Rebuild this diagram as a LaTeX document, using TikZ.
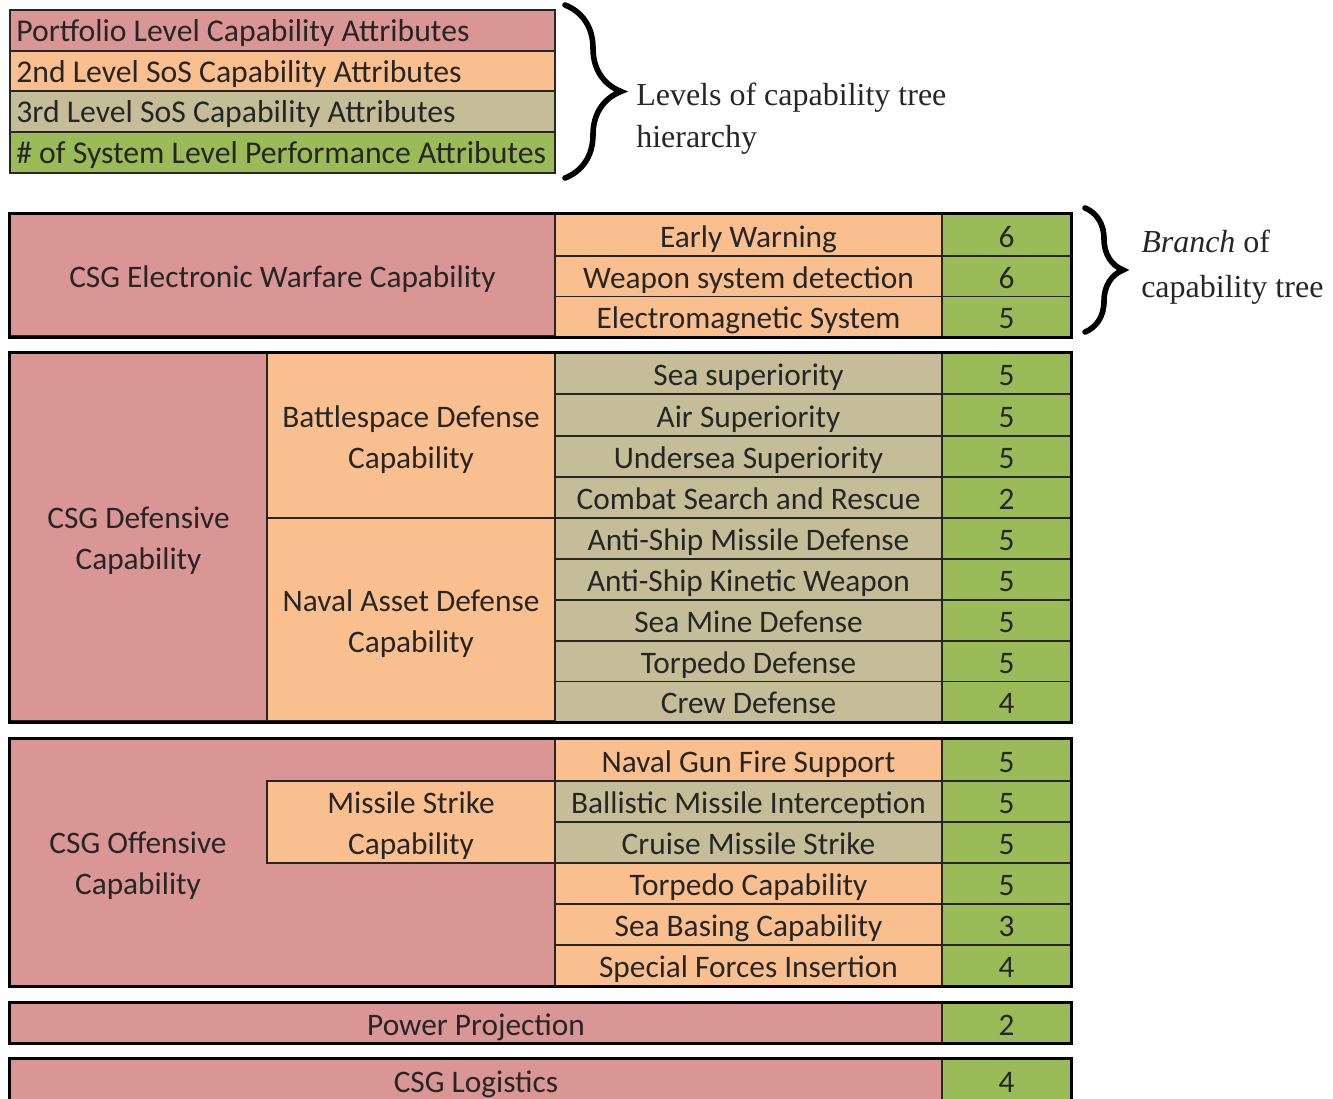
\documentclass[tikz,border=0pt]{standalone}
\usepackage{fontspec}
\setmainfont{Carlito}
\newfontfamily\serifrm{Liberation Serif}
\usetikzlibrary{decorations.pathreplacing}
\definecolor{pinkc}{HTML}{DA9694}
\definecolor{orangec}{HTML}{FABF8F}
\definecolor{tanc}{HTML}{C4BD97}
\definecolor{greenc}{HTML}{9BBB59}
\definecolor{inkc}{HTML}{262626}
% cell without text: name, x1, y1, x2, y2, fill (pixel coordinates)
\newcommand\mkcell[6]{%
  \pgfmathsetmacro\cellw{(#4-#2)*0.75}%
  \pgfmathsetmacro\cellh{(#5-#3)*0.75}%
  \node[cellbox, fill=#6, minimum width=\cellw pt, minimum height=\cellh pt]
    (#1) at ({(#2+#4)/2},{(#3+#5)/2}) {};}
% cell with one line of text
\newcommand\mkline[7]{%
  \pgfmathsetmacro\cellw{(#4-#2)*0.75}%
  \pgfmathsetmacro\cellh{(#5-#3)*0.75}%
  \node[cellbox, oneline, fill=#6, minimum width=\cellw pt, minimum height=\cellh pt]
    (#1) at ({(#2+#4)/2},{(#3+#5)/2}) {#7};}
% cell with two lines of text
\newcommand\mktwo[7]{%
  \mkcell{#1}{#2}{#3}{#4}{#5}{#6}%
  \node[bigtext] (#1t) at ([yshift=-3pt]#1.center) {#7};}
\newcommand\myrow[6]{%
  \mkline{#1}{555}{#2}{942}{#3}{#4}{#5}%
  \mkline{#1n}{942}{#2}{1071}{#3}{greenc}{#6}}
\begin{document}
\begin{tikzpicture}[x=0.75pt,y=-0.75pt,
  cellbox/.style={draw=inkc, line width=0.9pt, inner sep=0pt, align=center,
    font=\fontsize{23.5}{30.75}\selectfont, text=inkc},
  oneline/.style={text height=24pt, text depth=6pt},
  legtext/.style={anchor=base west, inner sep=0pt, font=\fontsize{23.8}{28}\selectfont, text=inkc},
  outer/.style={draw=black, line width=2.4pt},
  bigtext/.style={inner sep=0pt, align=center, font=\fontsize{23.5}{30.75}\selectfont, text=inkc},
  note/.style={anchor=base west, inner sep=0pt, align=left, text=inkc},
  bracestyle/.style={decorate, decoration={brace, amplitude=#1}, line width=4.2pt, line cap=round}]
\useasboundingbox (0,0) rectangle (1333,1098);
\clip (0,0) rectangle (1333,1098);
\fill[white] (0,0) rectangle (1333,1098);

% Legend
\mkcell{lg1}{10}{10}{555}{51}{pinkc}
\mkcell{lg2}{10}{51}{555}{91}{orangec}
\mkcell{lg3}{10}{91}{555}{132}{tanc}
\mkcell{lg4}{10}{132}{555}{173}{greenc}
\node[legtext] (lgt1) at (16,42) {Portfolio Level Capability Attributes};
\node[legtext] (lgt2) at (16,83) {2nd Level SoS Capability Attributes};
\node[legtext] (lgt3) at (16,123) {3rd Level SoS Capability Attributes};
\node[legtext] (lgt4) at (16,164) {\# of System Level Performance Attributes};
\coordinate (b1s) at (565,5);
\coordinate (b1e) at (565,178);
\draw[bracestyle=42pt] (b1s) -- (b1e);
\node[note, font=\serifrm\fontsize{24}{31.5}\selectfont] (levels) at (636,148)
  {Levels of capability tree\\hierarchy};

% Electronic warfare branch
\mkline{ew}{10}{214}{555}{336}{pinkc}{CSG Electronic Warfare Capability}
\myrow{ew1}{214}{256}{orangec}{Early Warning}{6}
\myrow{ew2}{256}{297}{orangec}{Weapon system detection}{6}
\myrow{ew3}{297}{336}{orangec}{Electromagnetic System}{5}
\draw[outer] (ew.north west) rectangle (ew3n.south east);
\coordinate (b2s) at (1085,208);
\coordinate (b2e) at (1085,332);
\draw[bracestyle=28.5pt] (b2s) -- (b2e);
\node[note, font=\serifrm\fontsize{24}{33.75}\selectfont] (branch) at (1141,297)
  {\textit{Branch} of\\capability tree};

% Defensive branch
\mktwo{def}{10}{353}{267}{721}{pinkc}{CSG Defensive\\Capability}
\mktwo{bsd}{267}{353}{555}{518}{orangec}{Battlespace Defense\\Capability}
\mktwo{nad}{267}{518}{555}{721}{orangec}{Naval Asset Defense\\Capability}
\myrow{d1}{353}{394}{tanc}{Sea superiority}{5}
\myrow{d2}{394}{436}{tanc}{Air Superiority}{5}
\myrow{d3}{436}{477}{tanc}{Undersea Superiority}{5}
\myrow{d4}{477}{518}{tanc}{Combat Search and Rescue}{2}
\myrow{d5}{518}{559}{tanc}{Anti-Ship Missile Defense}{5}
\myrow{d6}{559}{600}{tanc}{Anti-Ship Kinetic Weapon}{5}
\myrow{d7}{600}{641}{tanc}{Sea Mine Defense}{5}
\myrow{d8}{641}{682}{tanc}{Torpedo Defense}{5}
\myrow{d9}{682}{721}{tanc}{Crew Defense}{4}
\draw[outer] (def.north west) rectangle (d9n.south east);

% Offensive branch
\mkcell{off}{10}{739}{555}{986}{pinkc}
\node[bigtext] (offt) at (138,866) {CSG Offensive\\Capability};
\mktwo{msc}{267}{781}{555}{863}{orangec}{Missile Strike\\Capability}
\myrow{o1}{739}{781}{orangec}{Naval Gun Fire Support}{5}
\myrow{o2}{781}{822}{tanc}{Ballistic Missile Interception}{5}
\myrow{o3}{822}{863}{tanc}{Cruise Missile Strike}{5}
\myrow{o4}{863}{904}{orangec}{Torpedo Capability}{5}
\myrow{o5}{904}{945}{orangec}{Sea Basing Capability}{3}
\myrow{o6}{945}{986}{orangec}{Special Forces Insertion}{4}
\draw[outer] (off.north west) rectangle (o6n.south east);

% Power projection
\mkline{pp}{10}{1003}{942}{1043}{pinkc}{Power Projection}
\mkline{ppn}{942}{1003}{1071}{1043}{greenc}{2}
\draw[outer] (pp.north west) rectangle (ppn.south east);

% Logistics
\mkline{lo}{10}{1059}{942}{1101}{pinkc}{CSG Logistics}
\mkline{lon}{942}{1059}{1071}{1101}{greenc}{4}
\draw[outer] (lo.north west) rectangle (lon.south east);
\end{tikzpicture}
\end{document}
